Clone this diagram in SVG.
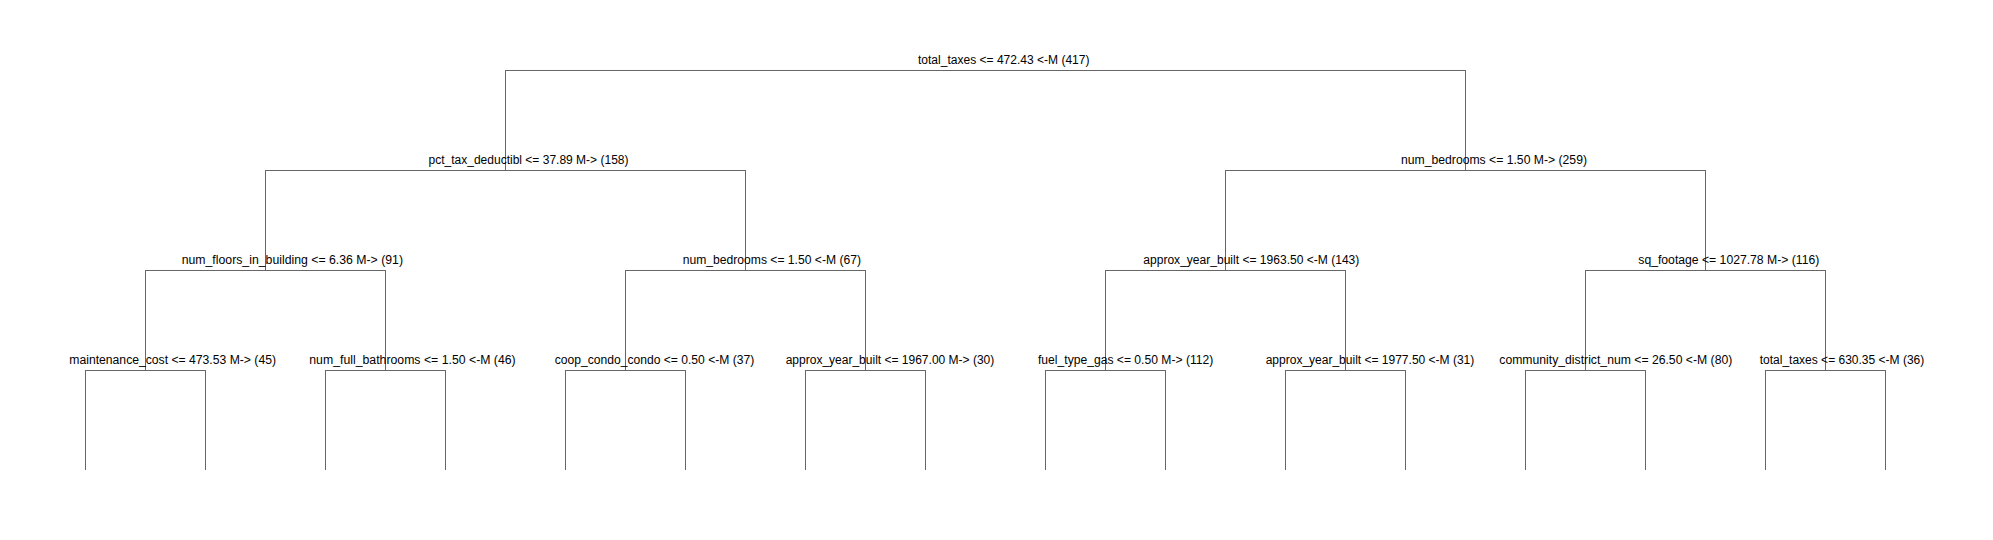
<svg xmlns="http://www.w3.org/2000/svg" width="1993" height="540" viewBox="0 0 1993 540">
<style>
.edge{fill:none;stroke:#666666;stroke-width:1;shape-rendering:crispEdges}
.lbl{font-family:"Liberation Sans",Arial,Helvetica,sans-serif;font-size:12px;fill:#000000}
</style>
<rect x="0" y="0" width="1993" height="540" fill="#ffffff"/>
<g id="connectors">
<path class="edge" d="M505.5 170.5V70.5H1465.5V170.5"/>
<path class="edge" d="M265.5 270.5V170.5H745.5V270.5"/>
<path class="edge" d="M1225.5 270.5V170.5H1705.5V270.5"/>
<path class="edge" d="M145.5 370.5V270.5H385.5V370.5"/>
<path class="edge" d="M625.5 370.5V270.5H865.5V370.5"/>
<path class="edge" d="M1105.5 370.5V270.5H1345.5V370.5"/>
<path class="edge" d="M1585.5 370.5V270.5H1825.5V370.5"/>
<path class="edge" d="M85.5 470V370.5H205.5V470"/>
<path class="edge" d="M325.5 470V370.5H445.5V470"/>
<path class="edge" d="M565.5 470V370.5H685.5V470"/>
<path class="edge" d="M805.5 470V370.5H925.5V470"/>
<path class="edge" d="M1045.5 470V370.5H1165.5V470"/>
<path class="edge" d="M1285.5 470V370.5H1405.5V470"/>
<path class="edge" d="M1525.5 470V370.5H1645.5V470"/>
<path class="edge" d="M1765.5 470V370.5H1885.5V470"/>
</g>
<g id="n1"><text class="lbl" x="918" y="64" textLength="171.5" lengthAdjust="spacingAndGlyphs">total_taxes &lt;= 472.43 &lt;-M (417)</text></g>
<g id="n2"><text class="lbl" x="428.5" y="164" textLength="200" lengthAdjust="spacingAndGlyphs">pct_tax_deductibl &lt;= 37.89 M-&gt; (158)</text></g>
<g id="n3"><text class="lbl" x="1401" y="164" textLength="186" lengthAdjust="spacingAndGlyphs">num_bedrooms &lt;= 1.50 M-&gt; (259)</text></g>
<g id="n4"><text class="lbl" x="181.7" y="264" textLength="221.3" lengthAdjust="spacingAndGlyphs">num_floors_in_building &lt;= 6.36 M-&gt; (91)</text></g>
<g id="n5"><text class="lbl" x="682.7" y="264" textLength="178.3" lengthAdjust="spacingAndGlyphs">num_bedrooms &lt;= 1.50 &lt;-M (67)</text></g>
<g id="n6"><text class="lbl" x="1143.3" y="264" textLength="216" lengthAdjust="spacingAndGlyphs">approx_year_built &lt;= 1963.50 &lt;-M (143)</text></g>
<g id="n7"><text class="lbl" x="1638.3" y="264" textLength="181" lengthAdjust="spacingAndGlyphs">sq_footage &lt;= 1027.78 M-&gt; (116)</text></g>
<g id="n8"><text class="lbl" x="69.3" y="364" textLength="206.7" lengthAdjust="spacingAndGlyphs">maintenance_cost &lt;= 473.53 M-&gt; (45)</text></g>
<g id="n9"><text class="lbl" x="309.3" y="364" textLength="206.4" lengthAdjust="spacingAndGlyphs">num_full_bathrooms &lt;= 1.50 &lt;-M (46)</text></g>
<g id="n10"><text class="lbl" x="554.7" y="364" textLength="199.6" lengthAdjust="spacingAndGlyphs">coop_condo_condo &lt;= 0.50 &lt;-M (37)</text></g>
<g id="n11"><text class="lbl" x="785.7" y="364" textLength="208.6" lengthAdjust="spacingAndGlyphs">approx_year_built &lt;= 1967.00 M-&gt; (30)</text></g>
<g id="n12"><text class="lbl" x="1038" y="364" textLength="175.3" lengthAdjust="spacingAndGlyphs">fuel_type_gas &lt;= 0.50 M-&gt; (112)</text></g>
<g id="n13"><text class="lbl" x="1265.7" y="364" textLength="208.6" lengthAdjust="spacingAndGlyphs">approx_year_built &lt;= 1977.50 &lt;-M (31)</text></g>
<g id="n14"><text class="lbl" x="1499.3" y="364" textLength="233" lengthAdjust="spacingAndGlyphs">community_district_num &lt;= 26.50 &lt;-M (80)</text></g>
<g id="n15"><text class="lbl" x="1759.7" y="364" textLength="164.6" lengthAdjust="spacingAndGlyphs">total_taxes &lt;= 630.35 &lt;-M (36)</text></g>
</svg>
